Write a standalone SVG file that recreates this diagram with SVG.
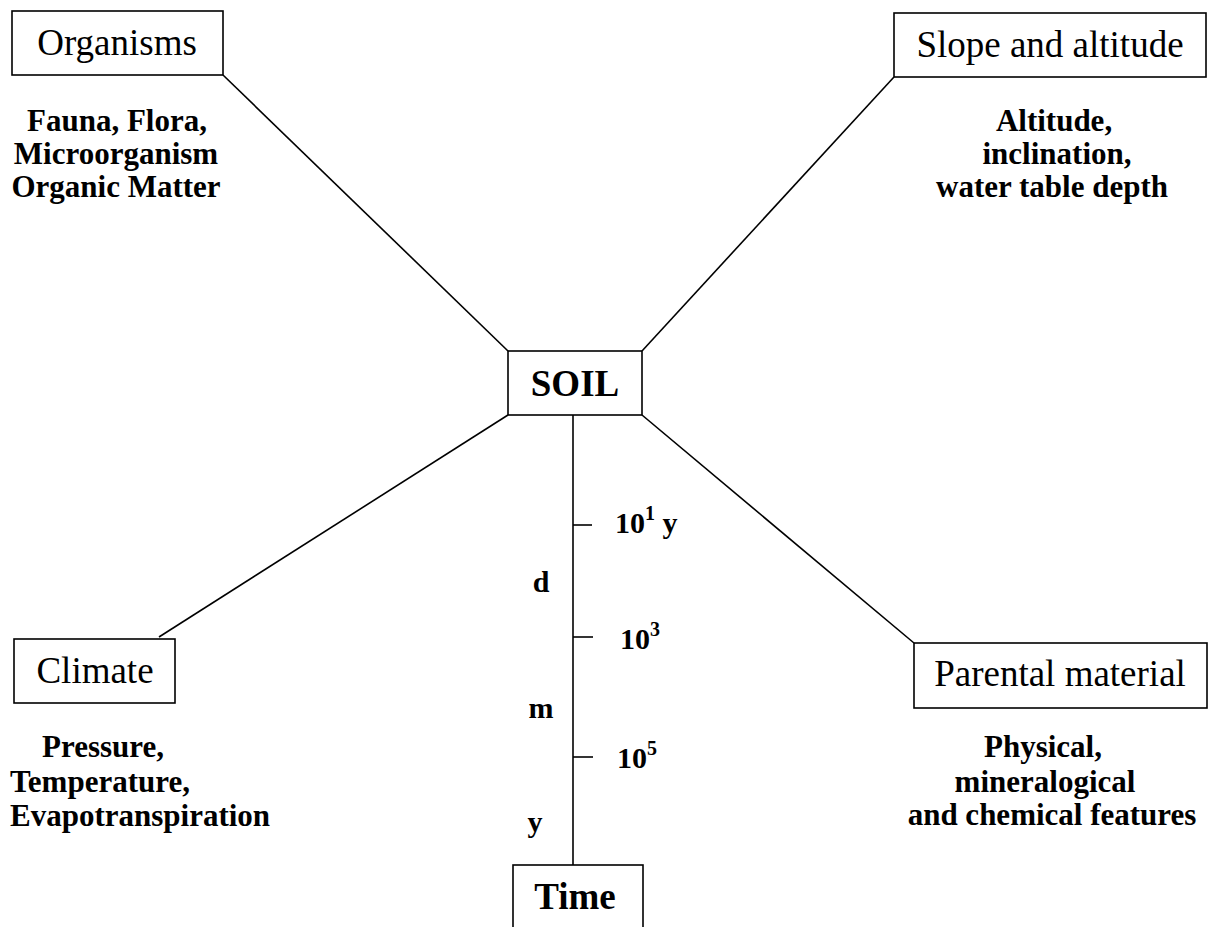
<svg xmlns="http://www.w3.org/2000/svg" width="1209" height="927" viewBox="0 0 1209 927">
  <style>
    .box { fill: #fff; stroke: #000; stroke-width: 1.6; }
    .conn { stroke: #000; stroke-width: 1.6; fill: none; }
    .title { font-family: "Liberation Serif", "Times New Roman", serif; font-size: 37px; fill: #000; text-anchor: middle; }
    .core { font-family: "Liberation Serif", "Times New Roman", serif; font-size: 37px; font-weight: bold; fill: #000; text-anchor: middle; }
    .sub { font-family: "Liberation Serif", "Times New Roman", serif; font-size: 31px; font-weight: bold; fill: #000; text-anchor: middle; }
    .left { text-anchor: start; }
    .axis { font-family: "Liberation Serif", "Times New Roman", serif; font-size: 30px; font-weight: bold; fill: #000; }
    .mid { text-anchor: middle; }
    .sup { font-size: 20px; }
  </style>

  <!-- connectors: soil to each factor, plus the time axis -->
  <g id="connectors">
    <line class="conn" x1="508" y1="351" x2="223" y2="75"/>
    <line class="conn" x1="642" y1="351" x2="894" y2="77"/>
    <line class="conn" x1="508" y1="415" x2="159" y2="637"/>
    <line class="conn" x1="642" y1="415" x2="914" y2="643"/>
    <line class="conn" x1="573" y1="415" x2="573" y2="865"/>
    <line class="conn" x1="573" y1="525" x2="592" y2="525"/>
    <line class="conn" x1="573" y1="637" x2="593" y2="637"/>
    <line class="conn" x1="573" y1="757" x2="593" y2="757"/>
  </g>

  <g id="time-scale">
    <text class="axis" x="615" y="533">10<tspan class="sup" dy="-13">1</tspan><tspan dy="13"> y</tspan></text>
    <text class="axis mid" x="541" y="592">d</text>
    <text class="axis" x="620" y="649">10<tspan class="sup" dy="-13">3</tspan></text>
    <text class="axis mid" x="541" y="718">m</text>
    <text class="axis" x="617" y="768">10<tspan class="sup" dy="-13">5</tspan></text>
    <text class="axis mid" x="535" y="832">y</text>
  </g>

  <g id="organisms">
    <rect class="box" x="12" y="11" width="211" height="64"/>
    <text class="title" x="117" y="55">Organisms</text>
    <text class="sub" x="117" y="131">Fauna, Flora,</text>
    <text class="sub" x="116" y="164">Microorganism</text>
    <text class="sub" x="116" y="197">Organic Matter</text>
  </g>

  <g id="slope">
    <rect class="box" x="894" y="13" width="312" height="64"/>
    <text class="title" x="1050" y="57">Slope and altitude</text>
    <text class="sub" x="1054" y="131">Altitude,</text>
    <text class="sub" x="1057" y="164">inclination,</text>
    <text class="sub" x="1052" y="197">water table depth</text>
  </g>

  <g id="soil">
    <rect class="box" x="508" y="351" width="134" height="64"/>
    <text class="core" x="575" y="396">SOIL</text>
  </g>

  <g id="climate">
    <rect class="box" x="14" y="639" width="161" height="64"/>
    <text class="title" x="95" y="683">Climate</text>
    <text class="sub left" x="42" y="757">Pressure,</text>
    <text class="sub left" x="10" y="792">Temperature,</text>
    <text class="sub left" x="10" y="826">Evapotranspiration</text>
  </g>

  <g id="parental">
    <rect class="box" x="914" y="643" width="293" height="65"/>
    <text class="title" x="1060" y="686">Parental material</text>
    <text class="sub" x="1043" y="757">Physical,</text>
    <text class="sub" x="1045" y="792">mineralogical</text>
    <text class="sub" x="1052" y="825">and chemical features</text>
  </g>

  <g id="time">
    <rect class="box" x="513" y="865" width="130" height="70"/>
    <text class="core" x="575" y="909">Time</text>
  </g>
</svg>
